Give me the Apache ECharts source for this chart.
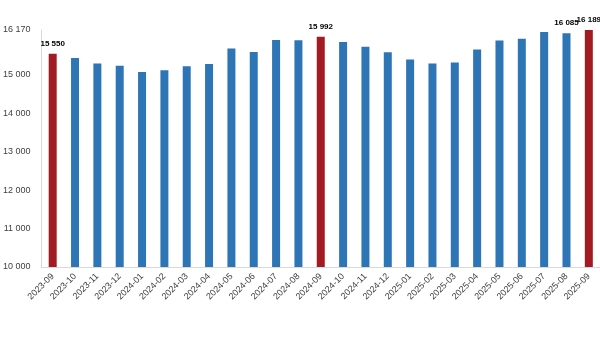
<!DOCTYPE html>
<html>
<head>
<meta charset="utf-8">
<script src="https://cdn.jsdelivr.net/npm/echarts@6/dist/echarts.min.js"></script>
<style>
html,body{margin:0;padding:0;background:#fff;}
#c{width:600px;height:356px;}
</style>
</head>
<body>
<div id="c"></div>
<script>
const categories = ['2023-09','2023-10','2023-11','2023-12','2024-01','2024-02','2024-03','2024-04','2024-05','2024-06','2024-07','2024-08','2024-09','2024-10','2024-11','2024-12','2025-01','2025-02','2025-03','2025-04','2025-05','2025-06','2025-07','2025-08','2025-09'];
const values = [15550,15440,15300,15240,15075,15125,15225,15285,15690,15600,15910,15900,15992,15860,15735,15590,15405,15300,15325,15665,15895,15940,16115,16085,16189];
const highlighted = ['2023-09','2024-09','2025-09'];
const labelled = ['2023-09','2024-09','2025-08','2025-09'];
const yTicks = [10000,11000,12000,13000,14000,15000,16170];
const yMin = 10000, yMax = 16170;

const BLUE = '#2e75b6', RED = '#a31b22';
function fmt(v){ return String(v).replace(/\B(?=(\d{3})+(?!\d))/g, ' '); }

const chart = echarts.init(document.getElementById('c'), null, {renderer:'canvas'});
chart.setOption({
  animation:false,
  grid:{left:39, right:0, top:30, bottom:89, containLabel:false},
  xAxis:{
    type:'category', data:categories,
    axisLine:{show:true, lineStyle:{color:'#d9d9d9', width:1}},
    axisTick:{show:false},
    axisLabel:{interval:0, rotate:45, margin:8, fontSize:9, color:'#404040', fontFamily:'Liberation Sans'}
  },
  yAxis:{
    type:'value', min:yMin, max:yMax, interval:1000,
    axisLine:{show:true, lineStyle:{color:'#d9d9d9', width:1}},
    axisTick:{show:false},
    splitLine:{show:false},
    axisLabel:{fontSize:9, color:'#404040', margin:11, fontFamily:'Liberation Sans',
      formatter:function(v){ return yTicks.indexOf(v) >= 0 ? fmt(v) : ''; }}
  },
  series:[{
    type:'bar', barWidth:8,
    data: categories.map((c,i)=>({
      value: values[i],
      itemStyle:{color: highlighted.indexOf(c)>=0 ? RED : BLUE},
      label:{show: labelled.indexOf(c)>=0}
    })),
    label:{position:'top', distance:6, fontSize:8, fontWeight:'bold', color:'#000', fontFamily:'Liberation Sans',
      formatter:function(p){ return fmt(p.value); }}
  }]
});
</script>
</body>
</html>
